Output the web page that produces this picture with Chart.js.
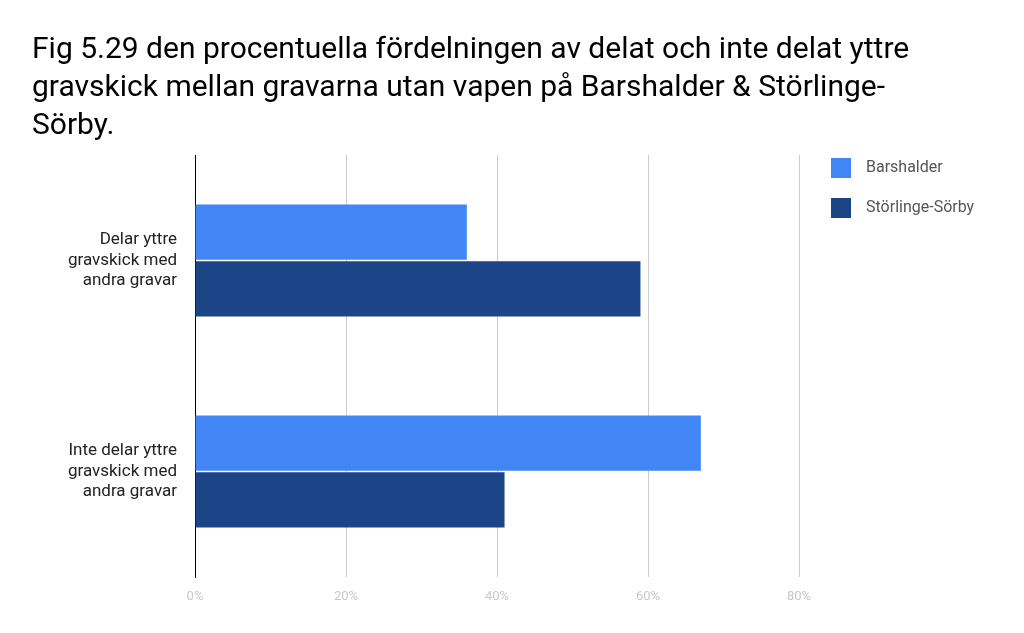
<!DOCTYPE html>
<html>
<head>
    <title>Fig 5.29</title>
    <script src="https://cdn.jsdelivr.net/npm/chart.js@4/dist/chart.umd.min.js"></script>
</head>
<style>
    body { margin: 0; width: 1024px; height: 633px; position: relative; font-family: Roboto, sans-serif; background: white; overflow: hidden; }
    #title { position: absolute; left: 32px; top: 29px; font-size: 30px; line-height: 38px; color: #000; width: 930px; z-index: 2; }
    #chartBox { position: absolute; left: 0; top: 0; width: 1024px; height: 633px; }
    .leg { position: absolute; left: 831px; font-size: 16px; color: #555; }
    .leg span { display: inline-block; width: 20px; height: 20px; vertical-align: middle; margin-right: 15px; }
</style>
<body>
    <div id="title">Fig 5.29 den procentuella fördelningen av delat och inte delat yttre gravskick mellan gravarna utan vapen på Barshalder &amp; Störlinge-Sörby.</div>
    <div id="chartBox"><canvas id="chart" width="1024" height="633"></canvas></div>
    <div class="leg" style="top:157px"><span style="background:#4285f4"></span>Barshalder</div>
    <div class="leg" style="top:197px"><span style="background:#1c4587"></span>Störlinge-Sörby</div>
    <script>
        const categories = [["Delar yttre", "gravskick med", "andra gravar"], ["Inte delar yttre", "gravskick med", "andra gravar"]];
        const barshalder = [36, 67];
        const storlinge = [59, 41];
        const tickValues = [0, 20, 40, 60, 80];

        new Chart(document.getElementById("chart"), {
            type: "bar",
            data: {
                labels: categories,
                datasets: [
                    { label: "Barshalder", data: barshalder, backgroundColor: "#4285f4" },
                    { label: "Störlinge-Sörby", data: storlinge, backgroundColor: "#1c4587" }
                ]
            },
            options: {
                indexAxis: "y",
                responsive: false,
                animation: false,
                categoryPercentage: 0.54,
                barPercentage: 0.97,
                layout: { padding: { top: 155, right: 225, bottom: 26, left: 0 } },
                plugins: { legend: { display: false }, tooltip: { enabled: false } },
                scales: {
                    x: {
                        min: 0, max: 80,
                        afterBuildTicks: s => { s.ticks = tickValues.map(v => ({ value: v })); },
                        afterFit: s => { s.height = 30; },
                        grid: { color: "#cccccc", drawTicks: false },
                        border: { display: false },
                        ticks: { color: "#c8c8c8", font: { family: "Roboto", size: 13 }, padding: 12, callback: v => v + "%" }
                    },
                    y: {
                        afterFit: s => { s.width = 195; },
                        grid: { display: false },
                        border: { color: "#000", width: 1 },
                        ticks: { color: "#222", font: { family: "Roboto", size: 17 }, padding: 10 }
                    }
                }
            }
        });
    </script>
</body>
</html>
